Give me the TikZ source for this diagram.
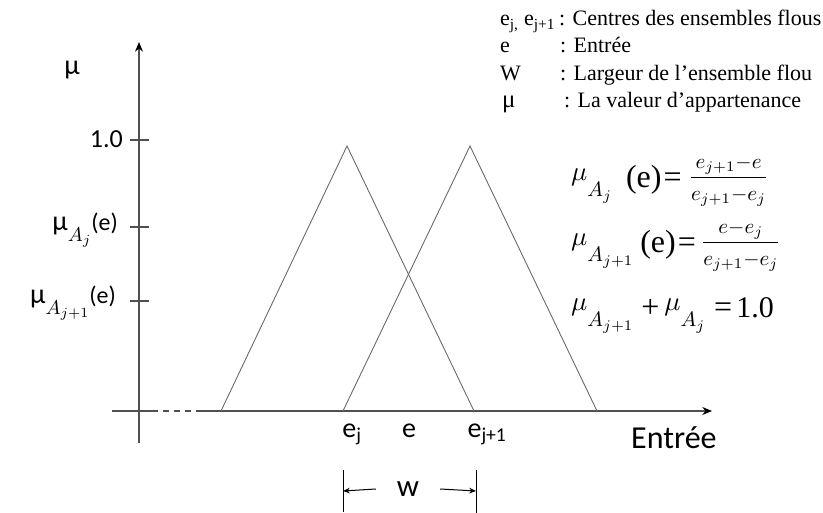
\documentclass[tikz,border=0pt]{standalone}
\usepackage{graphicx}
\usepackage{fontspec}
\setmainfont{Liberation Serif}
\newfontfamily\calibri{Carlito}
\usetikzlibrary{arrows.meta,positioning}
\definecolor{axgray}{HTML}{505050}
\definecolor{trgray}{HTML}{6A6A6A}
% mu with a large, lowered index
\newcommand{\mua}[1]{\raisebox{7pt}{\scalebox{2.7}{\normalsize$\mu$}}\raisebox{-9pt}{\scalebox{2.1}{\normalsize$#1$}}}
\newcommand{\efrac}[2]{\raisebox{5pt}{\scalebox{2.1}{\normalsize$\displaystyle\frac{#1}{\rule{0pt}{9.5pt}#2}$}}}
\newcommand{\lmu}[1]{μ\raisebox{-11pt}{\scalebox{2.0}{\normalsize$#1$}}{\fontsize{24}{26}\selectfont(e)}}

\begin{document}
\begin{tikzpicture}[x=1pt,y=-1pt,every node/.style={inner sep=0pt},
  >={Stealth[length=3.4mm,width=2.8mm,color=black]},
  axlab/.style={font=\calibri\fontsize{28}{30}\selectfont,anchor=base east},
  xlab/.style={font=\calibri\fontsize{28}{32}\selectfont,anchor=base},
  leg/.style={font=\fontsize{22}{26}\selectfont,anchor=base west},
  eqn/.style={font=\fontsize{32}{36}\selectfont,anchor=base west},
  tri/.style={draw=trgray,line width=0.9pt},
  axis/.style={draw=axgray,line width=1.3pt},
  dim/.style={draw=black,line width=1pt}]
  \useasboundingbox (0,0) rectangle (823,513);

  % axes
  \coordinate (ybot) at (139,443);
  \coordinate (ytop) at (139,42);
  \coordinate (xl) at (112,411);
  \coordinate (xd1) at (152,411);
  \coordinate (xd2) at (198,411);
  \coordinate (xr) at (712,411);
  \draw[axis,->] (ybot) -- (ytop);
  \draw[axis] (xl) -- (xd1);
  \draw[axis,dash pattern=on 6pt off 5pt] (xd1) -- (xd2);
  \draw[axis,->] (xd2) -- (xr);

  % ticks on the mu axis
  \foreach \ty/\tn in {140/tone,227/taj,301/taj1}
    \draw[axis] (130,\ty) coordinate (\tn) -- (149,\ty);
  \node[axlab,anchor=base] (mu) at (72,75) {μ};
  \node[axlab,font=\calibri\fontsize{26}{30}\selectfont] (one) at (123,148) {1.0};
  \node[axlab] (muaj) at (118,231) {\lmu{A_j}};
  \node[axlab] (muaj1) at (116,304) {\lmu{A_{j+1}}};

  % the two fuzzy sets
  \coordinate (a1) at (221,411);
  \coordinate (p1) at (347,146);
  \coordinate (b1) at (474,411);
  \coordinate (a2) at (343,411);
  \coordinate (p2) at (470,146);
  \coordinate (b2) at (597,411);
  \draw[tri] (a1) -- (p1) -- (b1);
  \draw[tri] (a2) -- (p2) -- (b2);

  % labels under the axis
  \node[xlab] (ej) at (352,437) {e\textsubscript{j}};
  \node[xlab] (ee) at (409,437) {e};
  \node[xlab] (ej1) at (487,437) {e\textsubscript{j+1}};
  \node[font=\calibri\fontsize{32}{36}\selectfont,anchor=base west] (entree) at (631,448) {Entrée};

  % width w
  \coordinate (wl) at (343,491);
  \coordinate (wr) at (476,491);
  \draw[dim] (343,470) -- (343,512);
  \draw[dim] (476,470) -- (476,513);
  \node[font=\calibri\fontsize{31}{34}\selectfont,minimum width=64pt] (w) at (408,489) {w};
  \draw[dim,-{Stealth[length=2.4mm,width=2mm]}] (w.west) -- (wl);
  \draw[dim,-{Stealth[length=2.4mm,width=2mm]}] (w.east) -- (wr);

  % legend
  \node[leg] (k1) at (500,26) {e\textsubscript{j,} e\textsubscript{j+1}};
  \node[leg] (d1) at (559,26) {: Centres des ensembles flous};
  \node[leg] (k2) at (500,53) {e};
  \node[leg] (d2) at (560,53) {: Entrée};
  \node[leg] (k3) at (500,81) {W};
  \node[leg] (d3) at (560,81) {: Largeur de l’ensemble flou};
  \node[leg,font=\fontsize{25}{28}\selectfont] (k4) at (502,108) {μ};
  \node[leg] (d4) at (564,108) {: La valeur d’appartenance};

  % relations
  \node[eqn] (eq1) at (571,188)
    {\mua{A_j}\hspace{14pt}(e)\hspace{2pt}=\hspace{7pt}\efrac{e_{j+1}{-}e}{e_{j+1}{-}e_j}};
  \node[eqn] (eq2) at (571,253)
    {\mua{A_{j+1}}\hspace{7pt}(e)\hspace{2pt}=\hspace{5pt}\efrac{e{-}e_j}{e_{j+1}{-}e_j}};
  \node[eqn] (eq3) at (571,318)
    {\mua{A_{j+1}}\hspace{8pt}+\hspace{5pt}\mua{A_j}\hspace{9pt}=\hspace{4pt}{\fontsize{30}{34}\selectfont 1.0}};
\end{tikzpicture}
\end{document}
